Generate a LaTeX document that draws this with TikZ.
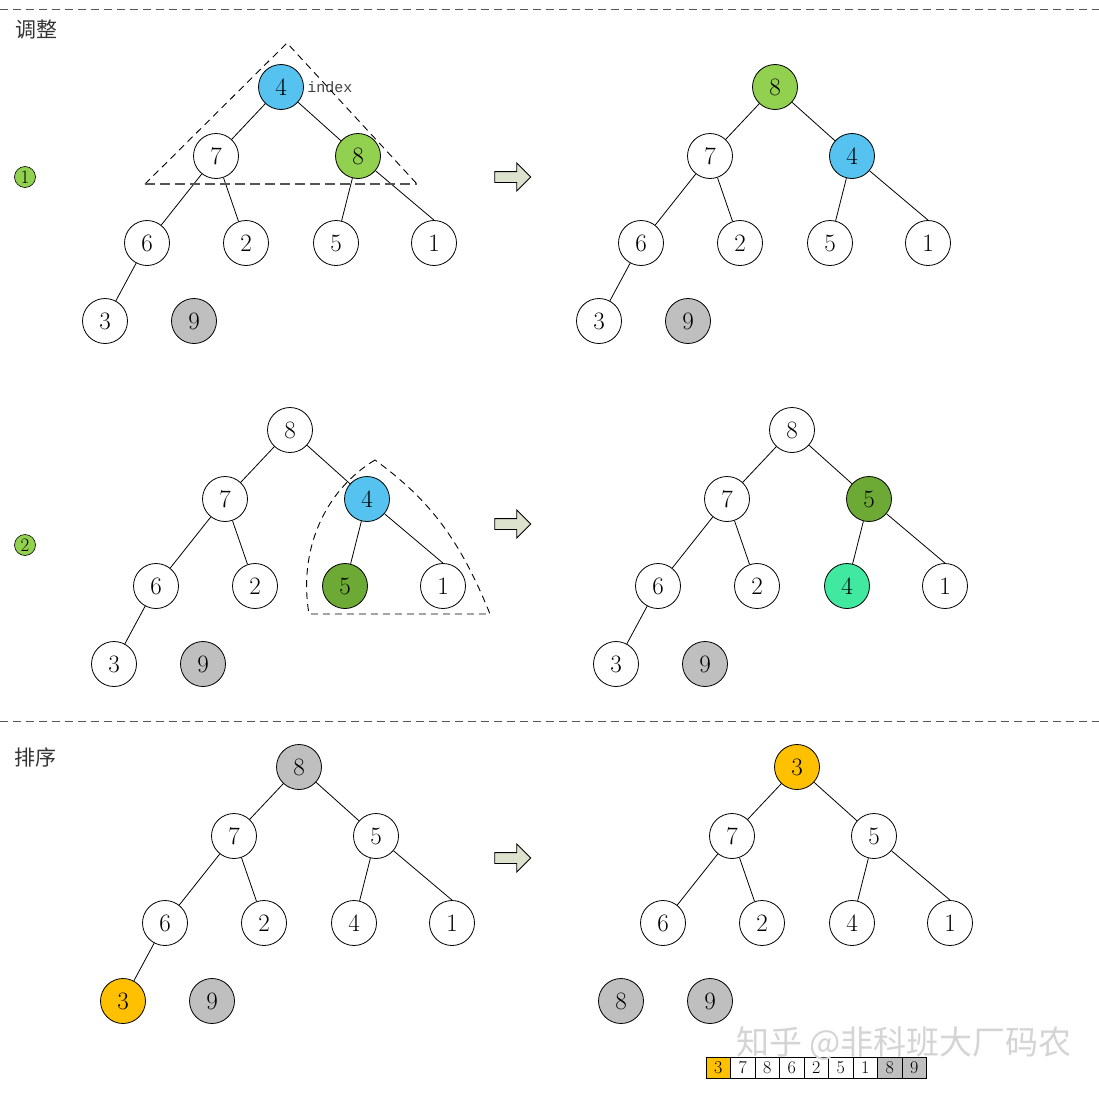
\documentclass[tikz,border=0pt]{standalone}
\usepackage{fontspec}
\newfontfamily\cjk{Noto Sans CJK SC}
\newfontfamily\idxfont{Liberation Mono}
\usetikzlibrary{shapes.arrows}
\definecolor{hblue}{HTML}{55C2F0}
\definecolor{hgreen}{HTML}{92D050}
\definecolor{hdark}{HTML}{6DAA35}
\definecolor{hteal}{HTML}{40E8A0}
\definecolor{hgray}{HTML}{BFBFBF}
\definecolor{horange}{HTML}{FFC000}
\definecolor{arrowfill}{HTML}{DDE2CF}
\definecolor{sepline}{HTML}{555555}

% one heap: #1 prefix, #2 root, #3 value/colour list, #4 linked nodes
\newcommand{\heaptree}[4]{%
  \begin{scope}[shift={#2}]
    \foreach \i/\px/\py in {1/0/0, 2/-65/69, 3/77/69, 4/-134/156, 5/-35/156,
        6/55/156, 7/153/156, 8/-176/234, 9/-87/234}
      \coordinate (#1p\i) at (\px,\py);
    \foreach \lab/\col [count=\i] in {#3}
      \node[hnode, fill=\col] (#1\i) at (#1p\i) {\lab};
    \foreach \i in {#4} {
      \pgfmathtruncatemacro{\up}{\i/2}
      \ifnum\i=7
        \draw[link] (#1\up) -- (#1\i.north);
      \else
        \draw[link] (#1\up) -- (#1\i);
      \fi
    }
  \end{scope}}

\begin{document}
\begin{tikzpicture}[x=1pt, y=-1pt,
  hnode/.style={circle, draw, line width=0.8pt, minimum size=45pt, inner sep=0pt,
    font=\fontsize{25}{25}\selectfont},
  link/.style={line width=0.8pt},
  badge/.style={circle, draw, line width=0.6pt, fill=hgreen, minimum size=21pt,
    inner sep=0pt, font=\fontsize{19}{19}\selectfont},
  sep/.style={sepline, line width=1pt, dash pattern=on 8pt off 5pt},
  frame/.style={black, line width=0.9pt, dash pattern=on 7pt off 5pt},
  base/.style={sepline, line width=1.3pt, dash pattern=on 10pt off 5pt},
  goto/.style={single arrow, draw, line width=0.8pt, fill=arrowfill, minimum height=36pt,
    minimum width=0pt, inner sep=5pt, single arrow head extend=8.5pt},
  cell/.style={rectangle, draw, line width=0.6pt, minimum width=24.5pt, minimum height=21pt,
    inner sep=0pt, font=\fontsize{18}{18}\selectfont},
  title/.style={anchor=west, inner sep=0pt, font=\cjk\fontsize{21}{21}\selectfont, text=black!80}]
  \useasboundingbox (0,0) rectangle (1099,1092);

  % separators and section titles
  \draw[sep] (0,9) -- (1099,9);
  \draw[sep] (0,721) -- (1099,721);
  \node[title] (adj) at (15,30) {调整};
  \node[title] (srt) at (14,757) {排序};
  \node[badge] (st1) at (25,177) {1};
  \node[badge] (st2) at (25,545) {2};

  % the six heaps
  \heaptree{a}{(281,87)}{4/hblue,7/white,8/hgreen,6/white,2/white,5/white,1/white,3/white,9/hgray}{2,...,8}
  \heaptree{b}{(775,87)}{8/hgreen,7/white,4/hblue,6/white,2/white,5/white,1/white,3/white,9/hgray}{2,...,8}
  \heaptree{c}{(290,430)}{8/white,7/white,4/hblue,6/white,2/white,5/hdark,1/white,3/white,9/hgray}{2,...,8}
  \heaptree{d}{(792,430)}{8/white,7/white,5/hdark,6/white,2/white,4/hteal,1/white,3/white,9/hgray}{2,...,8}
  \heaptree{e}{(299,767)}{8/hgray,7/white,5/white,6/white,2/white,4/white,1/white,3/horange,9/hgray}{2,...,8}
  \heaptree{f}{(797,767)}{3/horange,7/white,5/white,6/white,2/white,4/white,1/white,8/hgray,9/hgray}{2,...,7}

  \node[anchor=west, font=\idxfont\fontsize{15}{15}\selectfont, text=black!75] (idx)
    at (a1.east) {index};

  % dashed frames
  \draw[frame] (145,184) -- (287,43) -- (417,184);
  \draw[base] (145,184) -- (417,184);
  \draw[frame] (375,460) .. controls (325,490) and (298,550) .. (309,614)
    -- (490,614) .. controls (460,540) and (430,500) .. (375,460);

  % step arrows
  \node[goto] (go1) at (510,177) {};
  \node[goto] (go2) at (510,524) {};
  \node[goto] (go3) at (510,858) {};

  % array after the swap
  \foreach \v/\col [count=\i] in {3/horange,7/white,8/white,6/white,2/white,5/white,
      1/white,8/hgray,9/hgray}
    \node[cell, fill=\col] (arr\i) at ({706+24.5*(\i-0.5)},1068) {\v};

  \node[font=\cjk\fontsize{33}{33}\selectfont, text=black!17] (mark) at (904,1043)
    {知乎 @非科班大厂码农};
\end{tikzpicture}
\end{document}
